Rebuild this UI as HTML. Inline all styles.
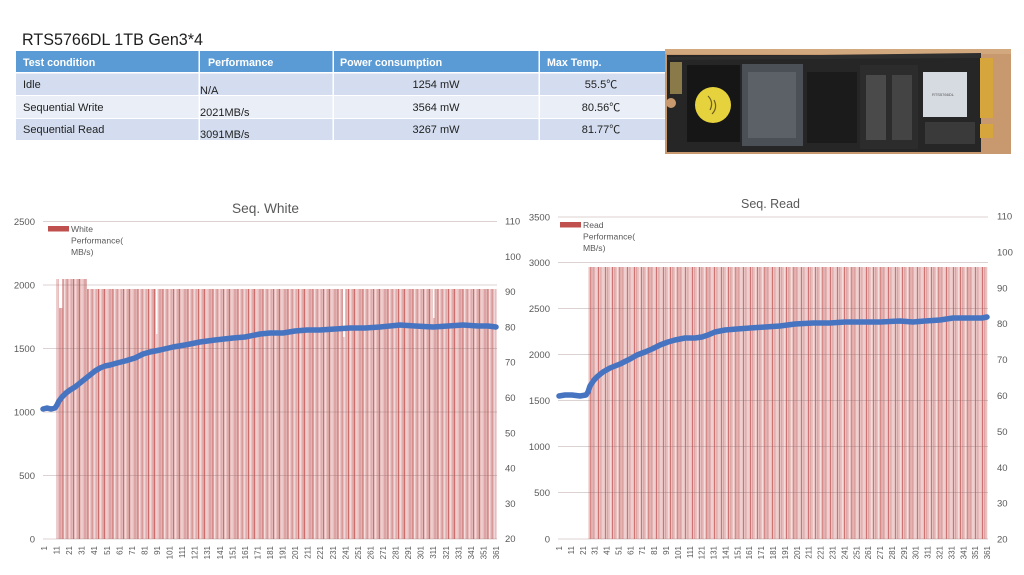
<!DOCTYPE html>
<html>
<head>
<meta charset="utf-8">
<style>
  html,body{margin:0;padding:0;background:#fff;}
  body{width:1024px;height:575px;overflow:hidden;}
  svg{display:block;}
  text{font-family:"Liberation Sans","Noto Sans CJK SC","DejaVu Sans",sans-serif;}
</style>
</head>
<body>
<svg width="1024" height="575" viewBox="0 0 1024 575" xmlns="http://www.w3.org/2000/svg">
  <defs>
    <pattern id="pL" patternUnits="userSpaceOnUse" x="0" y="0" width="25" height="575">
      <rect x="0" y="0" width="25" height="575" fill="#e7bdbd"/>
      <rect x="0" y="0" width="1.2" height="575" fill="#f2dada"/>
      <rect x="2.5" y="0" width="1.2" height="575" fill="#d99a9a"/>
      <rect x="4" y="0" width="0.8" height="575" fill="#c65a58"/>
      <rect x="6.3" y="0" width="1.3" height="575" fill="#f0d4d4"/>
      <rect x="9" y="0" width="2.4" height="575" fill="#dca4a4"/>
      <rect x="12.5" y="0" width="0.8" height="575" fill="#c65a58"/>
      <rect x="14" y="0" width="1.2" height="575" fill="#f3dddd"/>
      <rect x="16.5" y="0" width="1.4" height="575" fill="#d69696"/>
      <rect x="19" y="0" width="0.9" height="575" fill="#f2dada"/>
      <rect x="21" y="0" width="1.2" height="575" fill="#e0acac"/>
      <rect x="23" y="0" width="0.8" height="575" fill="#c65a58"/>
    </pattern>
    <pattern id="pR" patternUnits="userSpaceOnUse" x="0" y="0" width="29" height="575">
      <rect x="0" y="0" width="29" height="575" fill="#e9c2c2"/>
      <rect x="1" y="0" width="1.2" height="575" fill="#f3dcdc"/>
      <rect x="3" y="0" width="0.7" height="575" fill="#c4514f"/>
      <rect x="5" y="0" width="1.5" height="575" fill="#dfa6a6"/>
      <rect x="8" y="0" width="1" height="575" fill="#f4dfdf"/>
      <rect x="10.5" y="0" width="0.7" height="575" fill="#c4514f"/>
      <rect x="12.5" y="0" width="2" height="575" fill="#dda2a2"/>
      <rect x="15.5" y="0" width="1" height="575" fill="#f4dfdf"/>
      <rect x="18" y="0" width="0.7" height="575" fill="#c4514f"/>
      <rect x="20" y="0" width="1.4" height="575" fill="#e3b0b0"/>
      <rect x="22.5" y="0" width="1" height="575" fill="#f3dcdc"/>
      <rect x="25" y="0" width="0.8" height="575" fill="#c95f5d"/>
      <rect x="27" y="0" width="1.2" height="575" fill="#dea4a4"/>
    </pattern>
  </defs>

  <!-- Title -->
  <text x="22" y="45" font-size="17" fill="#1e1e1e" textLength="181" lengthAdjust="spacingAndGlyphs">RTS5766DL 1TB Gen3*4</text>

  <!-- Table -->
  <rect x="16" y="51" width="649" height="21" fill="#5b9bd5"/>
  <rect x="16" y="73" width="649" height="22" fill="#d3ddef"/>
  <rect x="16" y="96" width="649" height="22" fill="#e9eef7"/>
  <rect x="16" y="119" width="649" height="21" fill="#d3ddef"/>
  <rect x="198.5" y="51" width="1.5" height="89" fill="#fff"/>
  <rect x="332.5" y="51" width="1.5" height="89" fill="#fff"/>
  <rect x="538.5" y="51" width="1.5" height="89" fill="#fff"/>
  <rect x="16" y="72" width="649" height="1.5" fill="#fff"/>

  <g font-size="10.7" font-weight="bold" fill="#ffffff">
    <text x="23" y="66">Test condition</text>
    <text x="208" y="66">Performance</text>
    <text x="340" y="66">Power consumption</text>
    <text x="547" y="66">Max Temp.</text>
  </g>
  <g font-size="11" fill="#1f1f1f">
    <text x="23" y="88">Idle</text>
    <text x="200" y="94">N/A</text>
    <text x="436" y="88" text-anchor="middle">1254 mW</text>
    <text x="601" y="88" text-anchor="middle">55.5℃</text>

    <text x="23" y="111">Sequential Write</text>
    <text x="200" y="116">2021MB/s</text>
    <text x="436" y="111" text-anchor="middle">3564 mW</text>
    <text x="601" y="111" text-anchor="middle">80.56℃</text>

    <text x="23" y="133">Sequential Read</text>
    <text x="200" y="138">3091MB/s</text>
    <text x="436" y="133" text-anchor="middle">3267 mW</text>
    <text x="601" y="133" text-anchor="middle">81.77℃</text>
  </g>

  <!-- Photo of SSD -->
  <g>
    <rect x="665" y="49" width="346" height="105" fill="#c8996f"/>
    <rect x="665" y="49" width="346" height="5" fill="#d2a87f"/>
    <rect x="667" y="55" width="314" height="97" fill="#262626"/>
    <polygon points="667,57 981,53 981,58 667,60" fill="#2e2e2e"/>
    <circle cx="671" cy="103" r="5" fill="#c8996f"/>
    <rect x="670" y="62" width="12" height="32" fill="#8a7a4a"/>
    <rect x="687" y="65" width="53" height="77" fill="#161616"/>
    <circle cx="713" cy="105" r="18" fill="#e5d23c"/>
    <path d="M708,96 q6,6 2,14 M714,100 q4,8 -2,14" stroke="#6b5e20" stroke-width="1.2" fill="none"/>
    <rect x="742" y="64" width="61" height="82" fill="#4b5057"/>
    <rect x="748" y="72" width="48" height="66" fill="#5c6167"/>
    <rect x="807" y="72" width="50" height="71" fill="#1b1b1b"/>
    <rect x="860" y="65" width="58" height="84" fill="#2c2c2c"/>
    <rect x="866" y="75" width="20" height="65" fill="#4a4a4a"/>
    <rect x="892" y="75" width="20" height="65" fill="#444"/>
    <rect x="923" y="72" width="44" height="45" fill="#d6dbe2"/>
    <text x="932" y="96" font-size="4" fill="#555">RTS5766DL</text>
    <rect x="925" y="122" width="50" height="22" fill="#3a3a3a"/>
    <rect x="980" y="58" width="13" height="60" fill="#d6a63c"/>
    <rect x="980" y="124" width="13" height="14" fill="#d6a63c"/>
  </g>

  <!-- ============ LEFT CHART: Seq. White ============ -->
  <text x="232" y="213" font-size="13.5" fill="#595959" textLength="67" lengthAdjust="spacingAndGlyphs">Seq. White</text>

  <!-- bars -->
  <path d="M56,539 V279 H59 V308 H62.5 V279 H87 V289 H156 V334 H157.5 V289 H343 V337 H345 V289 H433 V318 H434.5 V289 H496.5 V539 Z" fill="url(#pL)"/>

  <!-- gridlines -->
  <g stroke="#8c6b6b" stroke-opacity="0.3" stroke-width="1">
    <line x1="43" y1="221.5" x2="497" y2="221.5"/>
    <line x1="43" y1="285" x2="497" y2="285"/>
    <line x1="43" y1="348.5" x2="497" y2="348.5"/>
    <line x1="43" y1="412" x2="497" y2="412"/>
    <line x1="43" y1="475.5" x2="497" y2="475.5"/>
    <line x1="43" y1="539" x2="497" y2="539"/>
  </g>

  <!-- temperature line -->
  <polyline fill="none" stroke="#4674c1" stroke-width="5.5" stroke-linejoin="round" stroke-linecap="round"
    points="43,409 47,408 51,409 55,408 57,405 59,401 62,397 66,393 70,390 75,387 80,383 85,379 90,375 95,371 100,368 105,366 110,365 117,363 125,361 135,358 143,354 150,352 160,350 173,347 185,345 200,342 215,340 233,338 245,337 260,334 270,333 283,333 295,331 307,330 320,330 335,329 350,328 365,328 380,327 400,325 415,326 433,327 448,326 463,325 478,326 488,326 496,327"/>

  <!-- legend -->
  <rect x="48" y="226" width="21" height="5.5" fill="#c0504d"/>
  <g font-size="8.6" fill="#595959">
    <text x="71" y="232">White</text>
    <text x="71" y="243.5">Performance(</text>
    <text x="71" y="255">MB/s)</text>
  </g>

  <!-- left axis -->
  <g font-size="9.5" fill="#595959" text-anchor="end">
    <text x="35" y="225">2500</text>
    <text x="35" y="288.5">2000</text>
    <text x="35" y="352">1500</text>
    <text x="35" y="415.5">1000</text>
    <text x="35" y="479">500</text>
    <text x="35" y="542.5">0</text>
  </g>
  <!-- right axis -->
  <g font-size="9.5" fill="#595959">
    <text x="505" y="224.5">110</text>
    <text x="505" y="259.8">100</text>
    <text x="505" y="295.1">90</text>
    <text x="505" y="330.4">80</text>
    <text x="505" y="365.7">70</text>
    <text x="505" y="401">60</text>
    <text x="505" y="436.3">50</text>
    <text x="505" y="471.6">40</text>
    <text x="505" y="506.9">30</text>
    <text x="505" y="542.2">20</text>
  </g>

  <!-- x labels left -->
  <g transform="rotate(-90)" font-size="8" fill="#595959" text-anchor="end">
    <text x="-546" y="47">1</text>
    <text x="-546" y="59.56">11</text>
    <text x="-546" y="72.11">21</text>
    <text x="-546" y="84.67">31</text>
    <text x="-546" y="97.22">41</text>
    <text x="-546" y="109.78">51</text>
    <text x="-546" y="122.33">61</text>
    <text x="-546" y="134.89">71</text>
    <text x="-546" y="147.44">81</text>
    <text x="-546" y="160">91</text>
    <text x="-546" y="172.56">101</text>
    <text x="-546" y="185.11">111</text>
    <text x="-546" y="197.67">121</text>
    <text x="-546" y="210.22">131</text>
    <text x="-546" y="222.78">141</text>
    <text x="-546" y="235.33">151</text>
    <text x="-546" y="247.89">161</text>
    <text x="-546" y="260.44">171</text>
    <text x="-546" y="273">181</text>
    <text x="-546" y="285.56">191</text>
    <text x="-546" y="298.11">201</text>
    <text x="-546" y="310.67">211</text>
    <text x="-546" y="323.22">221</text>
    <text x="-546" y="335.78">231</text>
    <text x="-546" y="348.33">241</text>
    <text x="-546" y="360.89">251</text>
    <text x="-546" y="373.44">261</text>
    <text x="-546" y="386">271</text>
    <text x="-546" y="398.56">281</text>
    <text x="-546" y="411.11">291</text>
    <text x="-546" y="423.67">301</text>
    <text x="-546" y="436.22">311</text>
    <text x="-546" y="448.78">321</text>
    <text x="-546" y="461.33">331</text>
    <text x="-546" y="473.89">341</text>
    <text x="-546" y="486.44">351</text>
    <text x="-546" y="499">361</text>
  </g>

  <!-- ============ RIGHT CHART: Seq. Read ============ -->
  <text x="741" y="208" font-size="13" fill="#595959" textLength="59" lengthAdjust="spacingAndGlyphs">Seq. Read</text>

  <path d="M588,539 V267 H987.5 V539 Z" fill="url(#pR)"/>

  <g stroke="#8c6b6b" stroke-opacity="0.3" stroke-width="1">
    <line x1="558" y1="217" x2="988" y2="217"/>
    <line x1="558" y1="262.5" x2="988" y2="262.5"/>
    <line x1="558" y1="308.5" x2="988" y2="308.5"/>
    <line x1="558" y1="354.5" x2="988" y2="354.5"/>
    <line x1="558" y1="400.5" x2="988" y2="400.5"/>
    <line x1="558" y1="446.5" x2="988" y2="446.5"/>
    <line x1="558" y1="492.5" x2="988" y2="492.5"/>
    <line x1="558" y1="539" x2="988" y2="539"/>
  </g>

  <polyline fill="none" stroke="#4674c1" stroke-width="5.5" stroke-linejoin="round" stroke-linecap="round"
    points="559,396 565,395 572,395 580,396 586,395 588,392 590,386 594,380 598,376 603,372 610,368 620,364 630,359 637,355 645,352 652,349 660,345 668,342 675,340 685,338 695,338 702,337 708,335 715,332 725,330 737,329 750,328 765,327 780,326 795,324 813,323 830,323 845,322 863,322 880,322 900,321 913,322 925,321 940,320 953,318 965,318 975,318 982,318 987,317"/>

  <rect x="560" y="222" width="21" height="5.5" fill="#c0504d"/>
  <g font-size="8.6" fill="#595959">
    <text x="583" y="228">Read</text>
    <text x="583" y="239.5">Performance(</text>
    <text x="583" y="251">MB/s)</text>
  </g>

  <g font-size="9.5" fill="#595959" text-anchor="end">
    <text x="550" y="220.5">3500</text>
    <text x="550" y="266">3000</text>
    <text x="550" y="312">2500</text>
    <text x="550" y="358">2000</text>
    <text x="550" y="404">1500</text>
    <text x="550" y="450">1000</text>
    <text x="550" y="496">500</text>
    <text x="550" y="542.5">0</text>
  </g>
  <g font-size="9.5" fill="#595959">
    <text x="997" y="219.5">110</text>
    <text x="997" y="255.4">100</text>
    <text x="997" y="291.3">90</text>
    <text x="997" y="327.2">80</text>
    <text x="997" y="363.1">70</text>
    <text x="997" y="399">60</text>
    <text x="997" y="434.9">50</text>
    <text x="997" y="470.8">40</text>
    <text x="997" y="506.7">30</text>
    <text x="997" y="542.5">20</text>
  </g>

  <g transform="rotate(-90)" font-size="8" fill="#595959" text-anchor="end">
    <text x="-546" y="562">1</text>
    <text x="-546" y="573.89">11</text>
    <text x="-546" y="585.78">21</text>
    <text x="-546" y="597.67">31</text>
    <text x="-546" y="609.56">41</text>
    <text x="-546" y="621.45">51</text>
    <text x="-546" y="633.34">61</text>
    <text x="-546" y="645.23">71</text>
    <text x="-546" y="657.12">81</text>
    <text x="-546" y="669.01">91</text>
    <text x="-546" y="680.9">101</text>
    <text x="-546" y="692.79">111</text>
    <text x="-546" y="704.68">121</text>
    <text x="-546" y="716.57">131</text>
    <text x="-546" y="728.46">141</text>
    <text x="-546" y="740.35">151</text>
    <text x="-546" y="752.24">161</text>
    <text x="-546" y="764.13">171</text>
    <text x="-546" y="776.02">181</text>
    <text x="-546" y="787.91">191</text>
    <text x="-546" y="799.8">201</text>
    <text x="-546" y="811.69">211</text>
    <text x="-546" y="823.58">221</text>
    <text x="-546" y="835.47">231</text>
    <text x="-546" y="847.36">241</text>
    <text x="-546" y="859.25">251</text>
    <text x="-546" y="871.14">261</text>
    <text x="-546" y="883.03">271</text>
    <text x="-546" y="894.92">281</text>
    <text x="-546" y="906.81">291</text>
    <text x="-546" y="918.7">301</text>
    <text x="-546" y="930.59">311</text>
    <text x="-546" y="942.48">321</text>
    <text x="-546" y="954.37">331</text>
    <text x="-546" y="966.26">341</text>
    <text x="-546" y="978.15">351</text>
    <text x="-546" y="990.04">361</text>
  </g>
</svg>
</body>
</html>
